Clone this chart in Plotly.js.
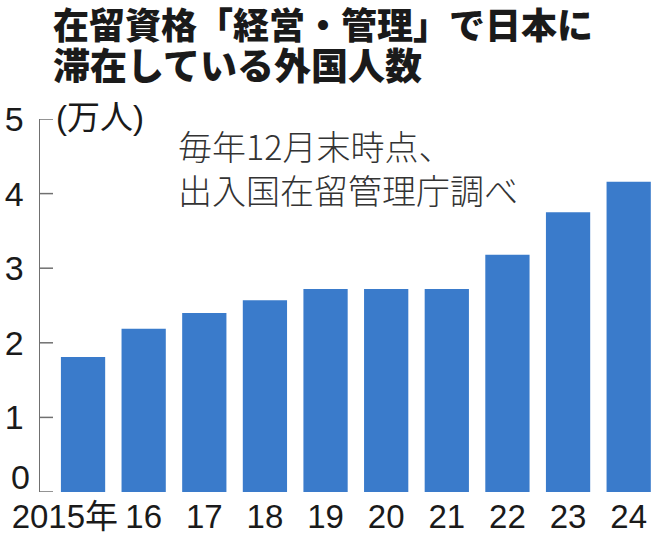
<!DOCTYPE html>
<html>
<head>
<meta charset="utf-8">
<script src="https://cdn.plot.ly/plotly-3.0.1.min.js"></script>
<style>html,body{margin:0;padding:0;background:#fff;}#chart{width:662px;height:547px;}</style>
</head>
<body>
<div id="chart"></div>
<script>
// Data (万人, end of each December)
const years = ['2015', '2016', '2017', '2018', '2019', '2020', '2021', '2022', '2023', '2024'];
const xLabels = ['2015年', '16', '17', '18', '19', '20', '21', '22', '23', '24'];
const residents = [1.81, 2.19, 2.40, 2.57, 2.72, 2.72, 2.72, 3.18, 3.75, 4.16];
const yTicks = [0, 1, 2, 3, 4, 5];

const titleLines = ['在留資格「経営・管理」で日本に', '滞在している外国人数'];
const unitText = '(万人)';
const noteText = '毎年12月末時点、<br>出入国在留管理庁調べ';

const narrow = '"Liberation Sans", Arial, "Noto Sans CJK JP", sans-serif';
const cjk = '"Noto Sans CJK JP", sans-serif';
const axisGray = '#707070';

const xIdx = years.map((_, i) => i);
// first label ("2015年") sits slightly left of its bar in the original
const tickPos = xIdx.map(i => (i === 0 ? i - 0.3 : i));

const trace = {
  type: 'bar',
  x: xIdx,
  y: residents,
  marker: {color: '#3a7bcb', line: {width: 0}},
  hoverinfo: 'skip'
};

// inside tick marks on the y axis
const plotW = 662 - 40 - 3;
const plotH = 547 - 119 - 55;
const tickShapes = yTicks.map(v => ({
  type: 'line', xref: 'paper', yref: 'y',
  x0: 0, x1: 13 / plotW, y0: v, y1: v,
  line: {color: axisGray, width: 1.5}
}));

// title lines (pixel centre from the top of the figure)
const titleCentres = [23, 64];
const titleSizes = [36, 37];
const titleAnns = titleLines.map((t, i) => ({
  text: t, xref: 'paper', yref: 'paper', x: 0,
  y: 1 + (119 - titleCentres[i]) / plotH,
  xanchor: 'left', yanchor: 'middle', align: 'left', xshift: 11, showarrow: false,
  font: {family: cjk, size: titleSizes[i], color: '#1a1a1a', weight: 900}
}));

const layout = {
  width: 662,
  height: 547,
  paper_bgcolor: '#ffffff',
  plot_bgcolor: '#ffffff',
  margin: {l: 40, r: 3, t: 119, b: 55},
  showlegend: false,
  bargap: 0.27,
  xaxis: {
    range: [-0.71, 9.5],
    tickmode: 'array',
    tickvals: tickPos,
    ticktext: xLabels,
    tickangle: 0,
    ticks: '',
    showline: false,
    showgrid: false,
    zeroline: false,
    tickfont: {family: narrow, size: 33, color: '#1a1a1a', stretch: 'condensed'},
    ticklabelstandoff: 2
  },
  yaxis: {
    range: [0, 5],
    tickmode: 'array',
    tickvals: yTicks,
    // the "0" label is lifted above the baseline in the original; drawn as an annotation below
    ticktext: yTicks.map(v => (v === 0 ? '' : String(v))),
    ticks: '',
    showline: true,
    linecolor: axisGray,
    linewidth: 1.5,
    showgrid: false,
    zeroline: false,
    tickfont: {family: narrow, size: 34, color: '#1a1a1a', stretch: 'condensed'},
    ticklabelstandoff: 8
  },
  shapes: tickShapes,
  annotations: titleAnns.concat([
    {
      text: String(yTicks[0]), xref: 'paper', yref: 'y', x: 0, y: yTicks[0],
      xanchor: 'right', yanchor: 'bottom', xshift: -8, yshift: -6, showarrow: false,
      font: {family: narrow, size: 34, color: '#1a1a1a', stretch: 'condensed'}
    },
    {
      text: unitText, xref: 'paper', yref: 'y', x: 0, y: yTicks[yTicks.length - 1],
      xanchor: 'left', yanchor: 'middle', xshift: 14, yshift: 2, showarrow: false,
      font: {family: narrow, size: 33, color: '#1a1a1a', stretch: 'condensed'}
    },
    {
      text: noteText, xref: 'paper', yref: 'paper', x: 0.219, y: 1.0,
      xanchor: 'left', yanchor: 'top', align: 'left', showarrow: false,
      font: {family: cjk, size: 34, color: '#333333', weight: 300}
    }
  ])
};

Plotly.newPlot('chart', [trace], layout, {staticPlot: true, displayModeBar: false});
</script>
</body>
</html>
